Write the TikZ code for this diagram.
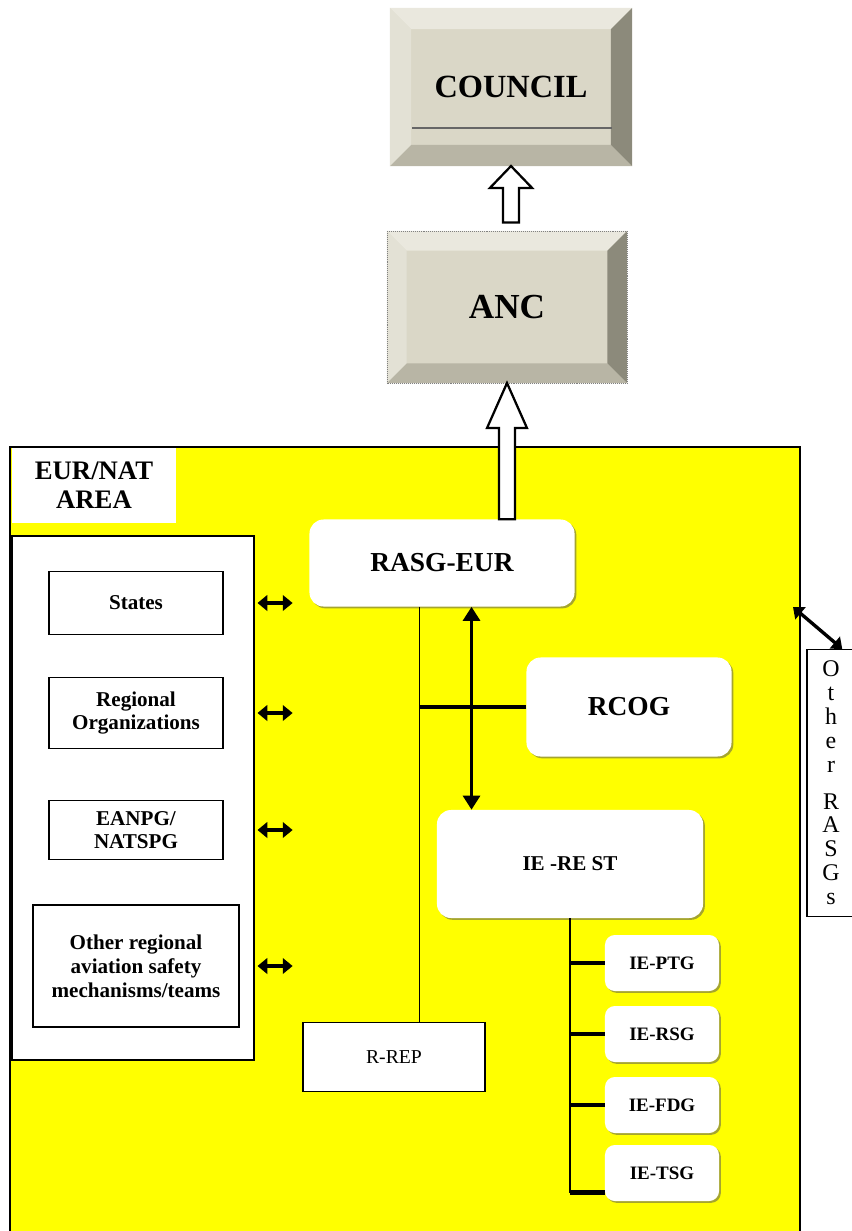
\documentclass[tikz,border=0pt]{standalone}
\usepackage{fontspec}
\setmainfont{Liberation Serif}
\usetikzlibrary{calc,shadows,arrows.meta}

\definecolor{keyface}{HTML}{DAD7C7}
\definecolor{keytop}{HTML}{EAE8DE}
\definecolor{keyleft}{HTML}{E3E1D5}
\definecolor{keyright}{HTML}{8C8A7B}
\definecolor{keybottom}{HTML}{B8B5A5}
\definecolor{olivesh}{HTML}{8F8F3A}
\definecolor{areayellow}{RGB}{255,255,0}

% bevelled frame round a key-like node
\newcommand{\bevelframe}[2]{%
  \fill[keytop] (#1.north west) -- (#1.north east) -- ([shift={(-#2,-#2)}]#1.north east) -- ([shift={(#2,-#2)}]#1.north west) -- cycle;
  \fill[keybottom] (#1.south west) -- (#1.south east) -- ([shift={(-#2,#2)}]#1.south east) -- ([shift={(#2,#2)}]#1.south west) -- cycle;
  \fill[keyleft] (#1.north west) -- (#1.south west) -- ([shift={(#2,#2)}]#1.south west) -- ([shift={(#2,-#2)}]#1.north west) -- cycle;
  \fill[keyright] (#1.north east) -- (#1.south east) -- ([shift={(-#2,#2)}]#1.south east) -- ([shift={(-#2,-#2)}]#1.north east) -- cycle;}

% hollow block arrow pointing up: base, tip, head length, head half width
\newcommand{\hollowup}[4]{%
  \draw[hollow] let \p1=(#1), \p2=(#2) in
    (\x2-5.7pt,\y1) -- (\x2-5.7pt,\y2-#3) -- (\x2-#4,\y2-#3) -- (\x2,\y2)
    -- (\x2+#4,\y2-#3) -- (\x2+5.7pt,\y2-#3) -- (\x2+5.7pt,\y1) -- cycle;}

\begin{document}
\begin{tikzpicture}[x=0.025cm,y=-0.025cm,
  keybox/.style={fill=keyface, inner sep=0pt, outer sep=0pt},
  leftbox/.style={draw, line width=0.9pt, fill=white, minimum width=4.35cm, inner sep=0pt, align=center, font=\bfseries\fontsize{15}{16.5}\selectfont},
  softbox/.style={fill=white, rounded corners=10pt, inner sep=0pt, align=center,
    drop shadow={shadow xshift=1.3pt, shadow yshift=-1.3pt, fill=olivesh, opacity=.8}},
  hollow/.style={draw, fill=white, line width=1.6pt, line join=miter},
  bar/.style={line width=3.5pt},
  dbl/.style={line width=2.4pt, {Triangle[length=7pt,width=11pt]}-{Triangle[length=7pt,width=11pt]}},
  vdbl/.style={line width=2.4pt, {Triangle[length=10pt,width=12pt]}-{Triangle[length=10pt,width=12pt]}}]
  \useasboundingbox (0,0) rectangle (852,1231);

  % council and ANC
  \node[keybox, minimum width=6.05cm, minimum height=3.95cm, font=\bfseries\fontsize{23}{26}\selectfont] (council) at (511,87) {COUNCIL};
  \bevelframe{council}{15pt}
  \draw[line width=1.5pt, black!60] ([shift={(16pt,-29pt)}]council.west) -- ([shift={(-14pt,-29pt)}]council.east);
  \node[keybox, minimum width=6cm, minimum height=3.8cm, font=\bfseries\fontsize{25}{28}\selectfont] (anc) at (507,307) {ANC};
  \bevelframe{anc}{14pt}
  \draw[densely dotted, black!50] (anc.north west) rectangle (anc.south east);
  \hollowup{[yshift=6pt]anc.north}{council.south}{15.6pt}{15pt}

  % EUR/NAT area
  \fill[areayellow] (10,447) rectangle (800,1231);
  \node[fill=white, minimum width=4.1cm, minimum height=1.9cm, align=center, font=\bfseries\fontsize{19}{21}\selectfont] (area) at (94,485) {EUR/NAT\\AREA};
  \draw[line width=1pt] (10,1231) -- (10,447) -- (800,447) -- (800,1231);

  % left panel
  \node[draw, line width=0.9pt, fill=white, minimum width=6.05cm, minimum height=13.1cm] (panel) at (133,798) {};
  \node[leftbox, minimum height=1.575cm] (states) at (136,603) {States};
  \node[leftbox, minimum height=1.775cm] (regorg) at (136,713) {Regional\\Organizations};
  \node[leftbox, minimum height=1.475cm] (eanpg) at (136,830) {EANPG/\\NATSPG};
  \node[leftbox, minimum width=5.15cm, minimum height=3.05cm, font=\bfseries\fontsize{15}{17}\selectfont] (otherreg) at (136,966) {Other regional\\aviation safety\\mechanisms/teams};
  \foreach \n in {states,regorg,eanpg,otherreg}
    \draw[dbl] ($(panel.east |- \n)+(2pt,0)$) -- ++(25pt,0);

  % RASG and its groups
  \node[softbox, minimum width=6.625cm, minimum height=2.175cm, font=\bfseries\fontsize{19.5}{22}\selectfont] (rasg) at (442,563) {RASG-EUR};
  \node[softbox, minimum width=5.125cm, minimum height=2.475cm, font=\bfseries\fontsize{19.5}{22}\selectfont] (rcog) at (629,707) {RCOG};
  \node[softbox, minimum width=6.65cm, minimum height=2.7cm, font=\bfseries\fontsize{15}{17}\selectfont] (ierest) at (570,864) {IE -RE ST};
  \foreach \n/\t/\yy in {ieptg/IE-PTG/963, iersg/IE-RSG/1034, iefdg/IE-FDG/1105, ietsg/IE-TSG/1173}
    \node[softbox, rounded corners=7pt, minimum width=2.85cm, minimum height=1.4cm, font=\bfseries\fontsize{13.5}{15}\selectfont] (\n) at (662,\yy) {\t};
  \node[draw, line width=0.8pt, fill=white, minimum width=4.55cm, minimum height=1.725cm, font=\fontsize{14}{16}\selectfont] (rrep) at (394,1057) {R-REP};

  \coordinate (trunk) at ([xshift=-16pt]rasg.south);
  \coordinate (link) at ([xshift=21pt]rasg.south);
  \draw[line width=1pt] (trunk) -- (trunk |- rrep.north);
  \draw[bar] (rcog.west) -- (rcog.west -| trunk);
  \draw[vdbl] (link) -- (link |- ierest.north);
  \draw[line width=2pt] (ierest.south) -- ($(ierest.south |- ietsg.south)+(0,6pt)$);
  \foreach \n in {ieptg,iersg,iefdg}
    \draw[bar] (\n.west) -- (\n.west -| ierest.south);
  \draw[bar] ($(ietsg.south west)+(0,6pt)$) -- ($(ierest.south |- ietsg.south)+(0,6pt)$);

  \hollowup{rasg.north -| anc.south}{anc.south}{32pt}{14.2pt}

  % other RASGs
  \node[draw, line width=0.8pt, fill=white, minimum width=1.2cm, minimum height=6.675cm, align=center, font=\fontsize{17}{17}\selectfont] (rasgs) at (831,783) {O\\t\\h\\e\\r\\[9pt]R\\A\\S\\G\\s};
  \coordinate (yedge) at (793,607);
  \draw[dbl] (yedge) -- ($(rasgs.north)+(8pt,0)$);
\end{tikzpicture}
\end{document}
